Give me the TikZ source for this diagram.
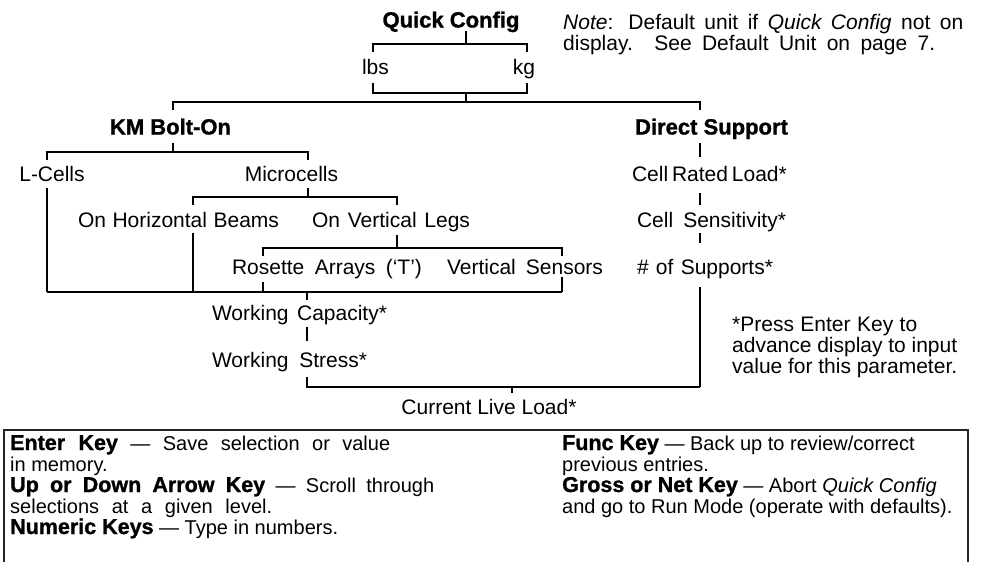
\documentclass[tikz,border=0pt]{standalone}
\usepackage{fontspec}
\setmainfont{Liberation Sans}[BoldFeatures={FakeBold=1.2}]
\newcommand\keyname[1]{{\fontsize{21.5}{24}\selectfont\bfseries #1}}
\newcommand\fitw[2]{\makebox[#1pt][s]{#2}}
\begin{document}
\begin{tikzpicture}[x=1pt,y=-1pt,
  ln/.style={line width=1.8pt,line cap=butt,line join=miter},
  tx/.style={inner sep=0pt,anchor=base,font=\fontsize{21}{23}\selectfont},
  txl/.style={tx,anchor=base west},
  kx/.style={inner sep=0pt,anchor=base west,font=\fontsize{20}{22}\selectfont},
  hd/.style={inner sep=0pt,anchor=base,font=\fontsize{22}{24}\selectfont\bfseries},
  boxline/.style={line width=1.2pt,draw=black!85}]
\useasboundingbox (0,0) rectangle (981,562);

% ---------- text nodes ----------
\node[hd] (qc) at (451,27.5) {Quick Config};
\node[tx] (lbs) at (375.5,74) {lbs};
\node[tx] (kg) at (524,74) {kg};
\node[txl] (note1) at (563,29) {\fitw{400}{\textit{Note}: Default unit if \textit{Quick Config} not on}};
\node[txl] (note2) at (563,50) {\fitw{372}{display. See Default Unit on page 7.}};

\node[hd] (km) at (170.5,134.5) {KM Bolt-On};
\node[hd] (ds) at (711.5,134.5) {Direct Support};

\node[tx] (lc) at (52,181) {L-Cells};
\node[tx] (mc) at (291.5,181) {Microcells};
\node[tx] (crl) at (709,181) {\fitw{154}{Cell Rated Load*}};

\node[tx] (ohb) at (178.5,227) {\fitw{201}{On Horizontal Beams}};
\node[tx] (ovl) at (391,227) {\fitw{158}{On Vertical Legs}};
\node[tx] (cs) at (711.5,227) {\fitw{149}{Cell Sensitivity*}};

\node[tx] (ra) at (327,274) {\fitw{190}{Rosette Arrays (‘T’)}};
\node[tx] (vs) at (525,274) {\fitw{156}{Vertical Sensors}};
\node[tx] (ns) at (705,274) {\fitw{136}{\# of Supports*}};

\node[tx] (wc) at (299.5,320) {\fitw{175}{Working Capacity*}};
\node[tx] (ws) at (289.5,367) {\fitw{155}{Working Stress*}};
\node[tx] (cll) at (489,414) {Current Live Load*};

\node[txl] (p1) at (732,331) {\fitw{185}{*Press Enter Key to}};
\node[txl] (p2) at (732,352) {\fitw{225}{advance display to input}};
\node[txl] (p3) at (732,373) {\fitw{225}{value for this parameter.}};

% ---------- junction coordinates ----------
\coordinate (qcA) at (466,31);   \coordinate (qcB) at (466,44);
\coordinate (uL) at (373,44);    \coordinate (uR) at (527,44);
\coordinate (lL) at (373,93);    \coordinate (lR) at (527,93);
\coordinate (uB) at (466,93);    \coordinate (bus1) at (466,102);
\coordinate (b1L) at (173,102);  \coordinate (b1R) at (700,102);
\coordinate (kmA) at (173,143);  \coordinate (kmB) at (173,152);
\coordinate (b2L) at (47,152);   \coordinate (b2R) at (308,152);
\coordinate (mcA) at (308,188);  \coordinate (mcB) at (308,197);
\coordinate (b3L) at (193,197);  \coordinate (b3R) at (397,197);
\coordinate (ovA) at (397,235);  \coordinate (ovB) at (397,248);
\coordinate (b4L) at (263,248);  \coordinate (b4R) at (562,248);
\coordinate (bus2L) at (47,292); \coordinate (bus2R) at (562,292);
\coordinate (wcA) at (307,292);
\coordinate (dsA) at (700,143);
\coordinate (b5L) at (307,387);  \coordinate (b5R) at (700,387);
\coordinate (cllT) at (512,387);

% ---------- connectors ----------
\draw[ln] (qcA) -- (qcB);
\draw[ln] (uL) ++(0,8) -- (uL) -- (uR) -- ++(0,8);
\draw[ln] (lL) ++(0,-10) -- (lL) -- (lR) -- ++(0,-10);
\draw[ln] (uB) -- (bus1);
\draw[ln] (b1L) ++(0,8) -- (b1L) -- (b1R) -- ++(0,8);
\draw[ln] (kmA) -- (kmB);
\draw[ln] (b2L) ++(0,8) -- (b2L) -- (b2R) -- ++(0,8);
% left branch
\draw[ln] (b2L) ++(0,36) -- (bus2L);
\draw[ln] (mcA) -- (mcB);
\draw[ln] (b3L) ++(0,8) -- (b3L) -- (b3R) -- ++(0,8);
\draw[ln] (b3L) ++(0,36) -- (b3L |- bus2L);
\draw[ln] (ovA) -- (ovB);
\draw[ln] (b4L) ++(0,8) -- (b4L) -- (b4R) -- ++(0,8);
\draw[ln] (b4L |- bus2L) ++(0,-10) -- (b4L |- bus2L);
\draw[ln] (bus2R) ++(0,-15) -- (bus2R);
\draw[ln] (bus2L) -- (bus2R);
\draw[ln] (wcA) -- ++(0,8);
\draw[ln] (307,327) -- (307,341);
\draw[ln] (307,377) -- (b5L) -- (b5R);
\draw[ln] (cllT) -- ++(0,6);
% right branch
\draw[ln] (dsA) -- (700,157);
\draw[ln] (700,193) -- (700,205);
\draw[ln] (700,233) -- (700,243);
\draw[ln] (700,287) -- (b5R);

% ---------- bottom key box ----------
\draw[boxline] (4,562) -- (4,430) -- (968,430) -- (968,562);
\node[kx] (e1) at (10,450) {\fitw{380}{\keyname{Enter Key} — Save selection or value}};
\node[kx] (e2) at (10,471) {in memory.};
\node[kx] (e3) at (10,492) {\fitw{424}{\keyname{Up or Down Arrow Key} — Scroll through}};
\node[kx] (e4) at (10,513) {\fitw{262}{selections at a given level.}};
\node[kx] (e5) at (10,534) {\keyname{Numeric Keys} — Type in numbers.};
\node[kx] (f1) at (562,450) {\keyname{Func Key} — Back up to review/correct};
\node[kx] (f2) at (562,471) {previous entries.};
\node[kx] (f3) at (562,492) {\keyname{Gross or Net Key} — Abort \textit{Quick Config}};
\node[kx] (f4) at (562,513) {and go to Run Mode (operate with defaults).};
\end{tikzpicture}
\end{document}
